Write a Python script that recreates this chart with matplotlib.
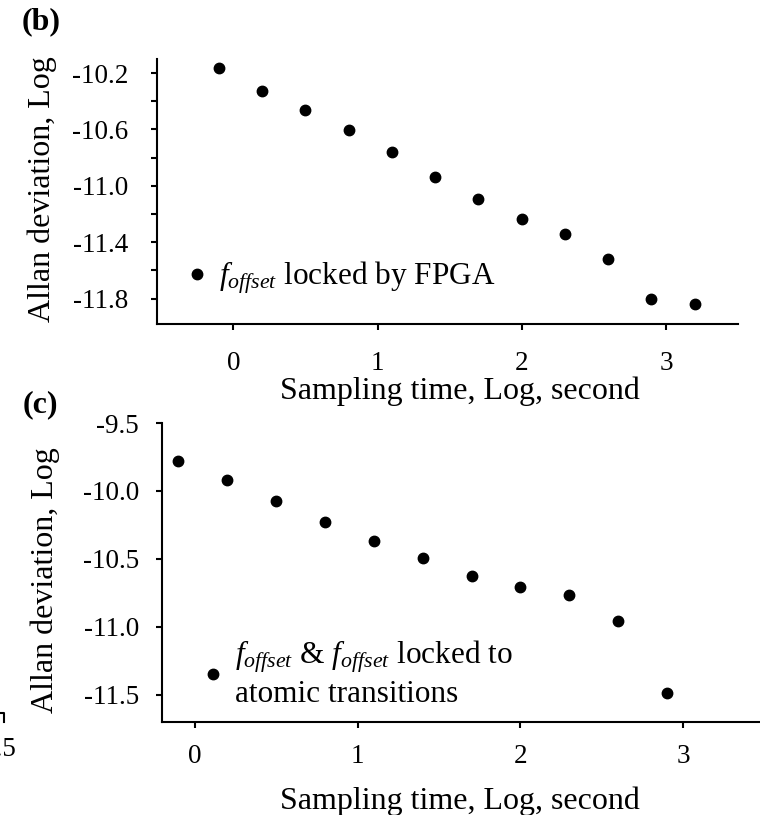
import numpy as np
import matplotlib
matplotlib.use("Agg")
import matplotlib.pyplot as plt
from matplotlib.lines import Line2D

plt.rcParams['font.family'] = ['Liberation Serif', 'DejaVu Serif']
plt.rcParams['mathtext.fontset'] = 'custom'
plt.rcParams['mathtext.rm'] = 'Liberation Serif'
plt.rcParams['mathtext.it'] = 'Liberation Serif:italic'

# panel (b): f_offset locked by FPGA
x_b = [-0.1, 0.2, 0.5, 0.8, 1.1, 1.4, 1.7, 2.0, 2.3, 2.6, 2.9, 3.2]
y_b = [-10.165, -10.327, -10.462, -10.604, -10.76, -10.936,
       -11.092, -11.234, -11.34, -11.517, -11.80, -11.835]

# panel (c): both locked to atomic transitions
x_c = [-0.1, 0.2, 0.5, 0.8, 1.1, 1.4, 1.7, 2.0, 2.3, 2.6, 2.9]
y_c = [-9.779, -9.921, -10.076, -10.227, -10.371, -10.491,
       -10.626, -10.704, -10.768, -10.954, -11.485]

b_yticks = [-10.2, -10.4, -10.6, -10.8, -11.0, -11.2, -11.4, -11.6, -11.8]
b_ylabels = ['-10.2', '', '-10.6', '', '-11.0', '', '-11.4', '', '-11.8']
c_yticks = [-9.5, -10.0, -10.5, -11.0, -11.5]
c_ylabels = ['-9.5', '-10.0', '-10.5', '-11.0', '-11.5']
xticks = [0, 1, 2, 3]

W, H = 760, 815
fig = plt.figure(figsize=(W / 100, H / 100), dpi=100)


def pos(l, t, r, b):
    return [l / W, 1 - b / H, (r - l) / W, (b - t) / H]


def style(ax):
    for s in ['top', 'right']:
        ax.spines[s].set_visible(False)
    for s in ['left', 'bottom']:
        ax.spines[s].set_linewidth(1.5)
    ax.tick_params(width=1.5, length=4.5, labelsize=19.5, direction='out')


# ---- (b)
ax1 = fig.add_axes(pos(157, 59, 738, 324))
ax1.plot(x_b, y_b, 'o', color='black', ms=7.5, label=r'$f_{offset}$ locked by FPGA')
ax1.set_xlim(-0.53, 3.5)
ax1.set_ylim(-11.98, -10.1)
ax1.set_yticks(b_yticks)
ax1.set_yticklabels(b_ylabels)
ax1.set_xticks(xticks)
style(ax1)
ax1.tick_params(axis='y', pad=16)
ax1.tick_params(axis='x', pad=15)
ax1.set_xlabel('Sampling time, Log, second', fontsize=23)
ax1.xaxis.set_label_coords(0.5215, -0.197)
ax1.set_ylabel('Allan deviation, Log', fontsize=23)
ax1.yaxis.set_label_coords(-0.172, 0.509)
ax1.legend(loc='lower left', bbox_to_anchor=(0.037, 0.105), frameon=False,
           fontsize=22.5, handletextpad=0.1, handlelength=1.2,
           borderaxespad=0, borderpad=0)

# ---- (c)
ax2 = fig.add_axes(pos(162, 423, 760, 722))
ax2.plot(x_c, y_c, 'o', color='black', ms=7.5,
         label='$f_{offset}$ & $f_{offset}$ locked to\natomic transitions')
ax2.set_xlim(-0.2, 3.47)
ax2.set_ylim(-11.7, -9.5)
ax2.set_yticks(c_yticks)
ax2.set_yticklabels(c_ylabels)
ax2.set_xticks(xticks)
style(ax2)
ax2.tick_params(axis='y', pad=12)
ax2.tick_params(axis='x', pad=11)
ax2.set_xlabel('Sampling time, Log, second', fontsize=23)
ax2.xaxis.set_label_coords(0.498, -0.215)
ax2.set_ylabel('Allan deviation, Log', fontsize=23)
ax2.yaxis.set_label_coords(-0.17, 0.475)
ax2.legend(loc='lower left', bbox_to_anchor=(0.054, 0.045), frameon=False,
           fontsize=22.5, handletextpad=0.1, handlelength=1.2,
           borderaxespad=0, borderpad=0)

# panel tags
fig.text(41 / W, 1 - 22 / H, '(b)', fontsize=23, fontweight='bold', ha='center', va='center')
fig.text(40 / W, 1 - 405 / H, '(c)', fontsize=23, fontweight='bold', ha='center', va='center')

# cut-off piece of the neighbouring panel at the left edge
fig.text(17 / W, 1 - 749 / H, '2.5', fontsize=19.5, ha='right', va='center')
fig.add_artist(Line2D([0, 4 / W, 4 / W], [1 - 713 / H, 1 - 713 / H, 1 - 722 / H],
                      color='black', lw=1.5, transform=fig.transFigure))

fig.savefig('out.png', dpi=100)
